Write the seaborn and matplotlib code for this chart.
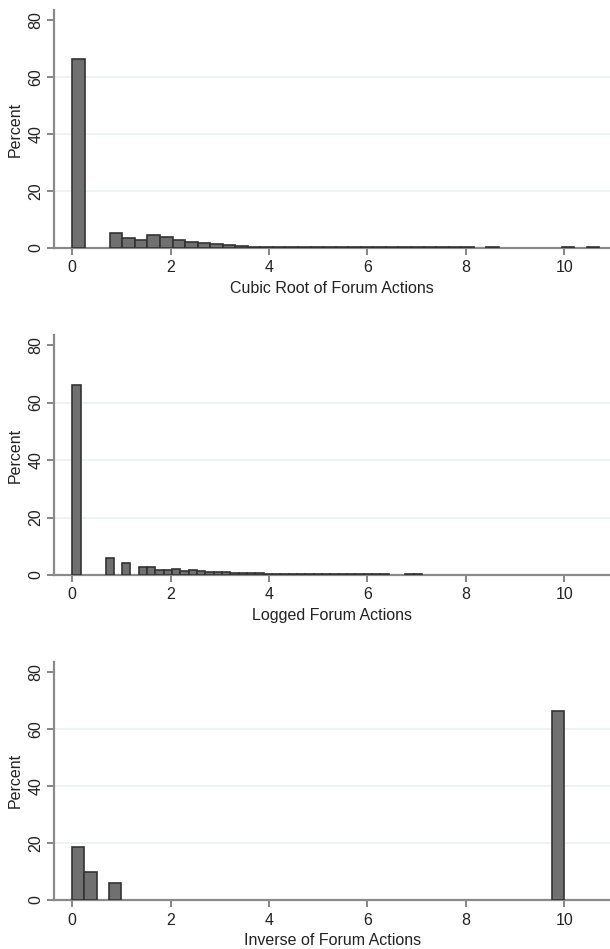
import numpy as np
import pandas as pd
import matplotlib
matplotlib.use('Agg')
import matplotlib.pyplot as plt
import seaborn as sns

# Percent per bin (bins start at 0)
cubic_binwidth = 0.255
cubic_pct = [66.2, 0, 0, 5.3, 3.5, 2.8, 4.4, 3.7, 2.9, 2.0,
             1.75, 1.4, 1.15, 0.75, 0.5, 0.35, 0.3, 0.28, 0.26, 0.25,
             0.24, 0.22, 0.2, 0.2, 0.2, 0.2, 0.18, 0.18, 0.18, 0.18,
             0.18, 0.18, 0, 0.2, 0, 0, 0, 0, 0, 0.2,
             0, 0.2]

log_binwidth = 0.1693
log_pct = [66.0, 0, 0, 0, 5.9, 0, 4.1, 0, 2.9, 2.9,
           1.9, 1.6, 2.1, 1.3, 1.6, 1.5, 1.1, 0.9, 0.9, 0.85,
           0.85, 0.8, 0.8, 0.45, 0.45, 0.4, 0.4, 0.4, 0.4, 0.35,
           0.25, 0.25, 0.25, 0.22, 0.22, 0.22, 0.2, 0.2, 0, 0,
           0.22, 0.22]

inv_binwidth = 0.25
inv_pct = [18.7, 9.7, 0, 6.1] + [0] * 35 + [66.1]

panels = [
    ('Cubic Root of Forum Actions', cubic_pct, cubic_binwidth),
    ('Logged Forum Actions', log_pct, log_binwidth),
    ('Inverse of Forum Actions', inv_pct, inv_binwidth),
]

sns.set_style('white')
plt.rcParams['font.family'] = ['Liberation Sans', 'DejaVu Sans']
plt.rcParams['font.size'] = 11.5

fig = plt.figure(figsize=(6.1, 9.49), dpi=100)
# axes boxes in figure fraction: [left, bottom, width, height]
boxes = [[0.0893, 0.7387, 0.9107, 0.2508],
         [0.0893, 0.3941, 0.9107, 0.2529],
         [0.0893, 0.0516, 0.9107, 0.2511]]

for (label, pct, bw), box in zip(panels, boxes):
    ax = fig.add_axes(box)
    n = len(pct)
    df = pd.DataFrame({'value': (np.arange(n) + 0.5) * bw,
                       'pct': np.asarray(pct, dtype=float)})
    sns.histplot(data=df, x='value', weights='pct', binwidth=bw,
                 binrange=(0, n * bw), ax=ax,
                 color='#707070', edgecolor='#333333', linewidth=1.2, alpha=1)
    # hide empty bins so their outlines don't darken the axis line;
    # keep the others above the axis line like the reference
    for p in ax.patches:
        if p.get_height() == 0:
            p.set_visible(False)
        else:
            p.set_zorder(3)

    ax.set_xlim(-0.36, 10.93)
    ax.set_ylim(0, 83.5)
    ax.set_xticks([0, 2, 4, 6, 8, 10])
    ax.set_yticks([0, 20, 40, 60, 80])
    ax.yaxis.grid(True, color='#eaf0f0', linewidth=1.2)
    gl = ax.yaxis.get_gridlines()
    gl[0].set_visible(False)
    gl[-1].set_visible(False)
    ax.set_axisbelow(True)

    for s in ['top', 'right']:
        ax.spines[s].set_visible(False)
    for s in ['left', 'bottom']:
        ax.spines[s].set_color('#8a8a8a')
        ax.spines[s].set_linewidth(1.6)

    ax.tick_params(axis='both', direction='out', length=5, width=1.1,
                   bottom=True, left=True,
                   color='#666666', labelcolor='#222222', labelsize=11.5)
    ax.tick_params(axis='y', pad=3)
    ax.tick_params(axis='x', pad=4)
    for t in ax.get_yticklabels():
        t.set_rotation(90)
        t.set_va('center')

    ax.set_xlabel(label, fontsize=11.5, color='#222222', labelpad=4)
    ax.set_ylabel('Percent', fontsize=11.5, color='#222222', labelpad=4)

fig.savefig('out.png', dpi=100)
